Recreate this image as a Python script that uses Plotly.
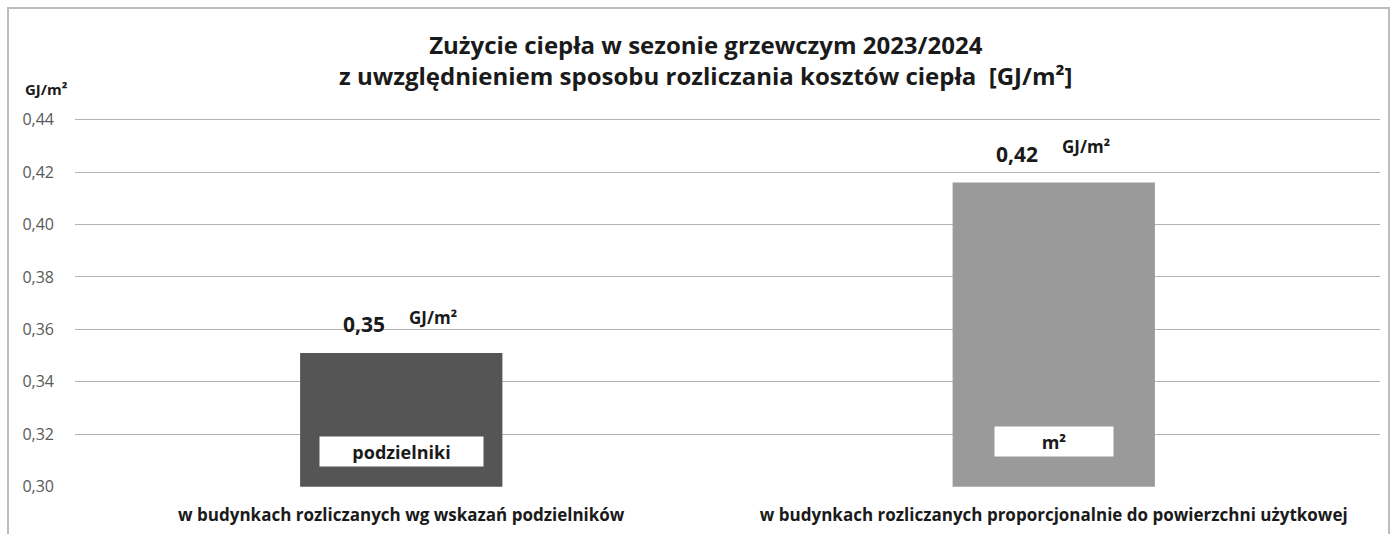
import plotly.graph_objects as go

categories = ["w budynkach rozliczanych wg wskazań podzielników",
              "w budynkach rozliczanych proporcjonalnie do powierzchni użytkowej"]
values = [0.351, 0.416]
value_labels = ["0,35", "0,42"]
unit_label = "GJ/m²"
box_labels = ["podzielniki", "m²"]
box_y = [0.3134, 0.3172]
bar_colors = ["#555555", "#9a9a9a"]
tick_vals = [0.30, 0.32, 0.34, 0.36, 0.38, 0.40, 0.42, 0.44]
tick_text = ["0,30", "0,32", "0,34", "0,36", "0,38", "0,40", "0,42", "0,44"]

FONT = "Open Sans"
W, H = 1393, 534
ML, MR, MT, MB = 75, 13, 117, 47
pw, ph = W - ML - MR, H - MT - MB

fig = go.Figure()
fig.add_trace(go.Bar(x=categories, y=[v - 0.30 for v in values], base=0.30,
                     marker=dict(color=bar_colors, line=dict(width=0)), width=0.31))

ann = []
for c, v, lab in zip(categories, values, value_labels):
    ann.append(dict(x=c, y=v, xref="x", yref="y", yshift=29, xshift=-37, showarrow=False,
                    xanchor="center", yanchor="middle", text=f"<b>{lab}</b>",
                    font=dict(family=FONT, size=21, color="#1a1a1a")))
    ann.append(dict(x=c, y=v, xref="x", yref="y", yshift=36, xshift=32, showarrow=False,
                    xanchor="center", yanchor="middle", text=f"<b>{unit_label}</b>",
                    font=dict(family=FONT, size=17, color="#1a1a1a")))
box_w = [165, 120]
for c, by, lab, bw in zip(categories, box_y, box_labels, box_w):
    ann.append(dict(x=c, y=by, xref="x", yref="y", showarrow=False, text=f"<b>{lab}</b>",
                    xanchor="center", yanchor="middle",
                    bgcolor="white", width=bw - 6, height=25, borderpad=2,
                    font=dict(family=FONT, size=18, color="#1a1a1a")))
ann.append(dict(x=(706 - ML) / pw, y=(H - MB - 60) / ph, xref="paper", yref="paper",
                showarrow=False, xanchor="center", yanchor="middle",
                text="<b>Zużycie ciepła w sezonie grzewczym 2023/2024</b><br><b>z uwzględnieniem sposobu rozliczania kosztów ciepła  [GJ/m²]</b>",
                font=dict(family=FONT, size=24, color="#1a1a1a")))
ann.append(dict(x=(46 - ML) / pw, y=(H - MB - 89) / ph, xref="paper", yref="paper",
                showarrow=False, xanchor="center", yanchor="middle",
                text=f"<b>{unit_label}</b>", font=dict(family=FONT, size=15, color="#1a1a1a")))
fig.update_layout(annotations=ann)

fig.add_shape(type="rect", xref="paper", yref="paper",
              x0=(8 - ML) / pw, x1=(W - 4 - ML) / pw, y0=(H - MB - (H + 5)) / ph, y1=(H - MB - 8) / ph,
              line=dict(color="#bdbdbd", width=2), fillcolor="rgba(0,0,0,0)", layer="below")

fig.update_layout(
    width=W, height=H, margin=dict(l=ML, r=MR, t=MT, b=MB),
    paper_bgcolor="white", plot_bgcolor="white", showlegend=False,
    xaxis=dict(showgrid=False, showline=False, ticks="", automargin=False,
               tickfont=dict(family=FONT, size=17, color="#1a1a1a"),
               tickprefix="<b>", ticksuffix="</b>", ticklabelstandoff=16),
    yaxis=dict(range=[0.2999, 0.441], tickvals=tick_vals, ticktext=tick_text, showgrid=True,
               automargin=False,
               gridcolor="#b3b3b3", gridwidth=1, zeroline=False, showline=False, ticks="",
               tickfont=dict(family=FONT, size=16, color="#595959"), ticklabelstandoff=20),
)
fig.update_yaxes(layer="below traces")
fig.write_html("out.html")
